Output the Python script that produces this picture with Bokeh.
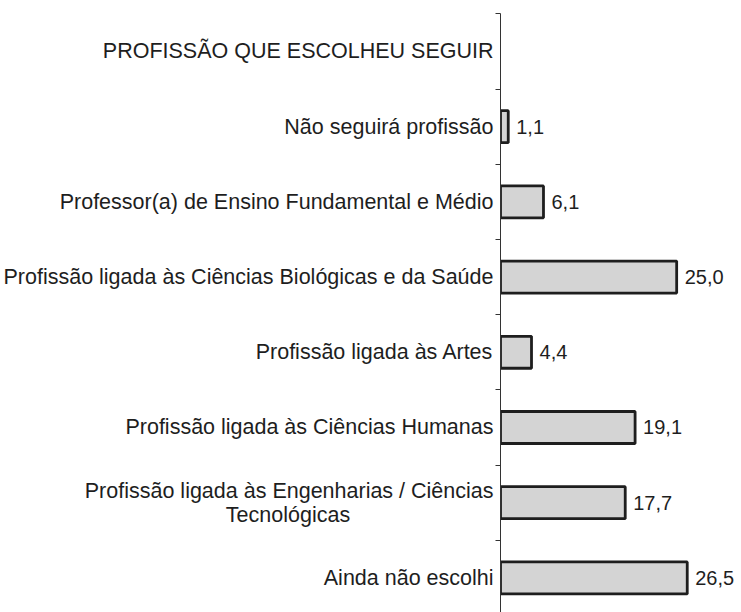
from bokeh.plotting import figure
from bokeh.models import Range1d, FixedTicker, ColumnDataSource
from bokeh.core.properties import value
from bokeh.embed import file_html
from bokeh.resources import INLINE

title_row = "PROFISSÃO QUE ESCOLHEU SEGUIR"
categories = [
    "Não seguirá profissão",
    "Professor(a) de Ensino Fundamental e Médio",
    "Profissão ligada às Ciências Biológicas e da Saúde",
    "Profissão ligada às Artes",
    "Profissão ligada às Ciências Humanas",
    "Profissão ligada às Engenharias / Ciências\nTecnológicas",
    "Ainda não escolhi",
]
values = [1.1, 6.1, 25.0, 4.4, 19.1, 17.7, 26.5]

FONT = "Liberation Sans"
LABEL_SIZE = "21.5px"
positions = list(range(1, len(categories) + 1))
labels = [f"{v:.1f}".replace(".", ",") for v in values]

src = ColumnDataSource(dict(y=positions, v=values, lab=labels))

p = figure(width=741, height=612, output_backend="svg", toolbar_location=None,
           x_range=Range1d(0, 34.2), y_range=Range1d(7.46, -0.505),
           min_border_left=499, min_border_right=0, min_border_top=13, min_border_bottom=0,
           x_axis_location=None, outline_line_color=None)
p.xgrid.visible = False
p.ygrid.visible = False

p.hbar(y="y", right="v", left=0, height=0.425, source=src,
       fill_color="#d4d4d4", line_color="#1e1e1e", line_width=2.8)
p.text(x="v", y="y", text="lab", source=src, x_offset=8,
       text_align="left", text_baseline="middle", text_font=value(FONT),
       text_font_size="20px", text_color="#1e1e1e")

ax = p.yaxis[0]
all_names = [title_row] + categories
ax.ticker = FixedTicker(ticks=list(range(len(all_names))),
                        minor_ticks=[i - 0.5 for i in range(len(all_names))])

# the second line of a wrapped label is centred under the first (as in the source)
PAD = "\u00a0" * 24
overrides = {}
for i, n in enumerate(all_names):
    if "\n" in n:
        first, second = n.split("\n")
        overrides[i] = first + "\n" + second + PAD
    else:
        overrides[i] = n
ax.major_label_overrides = overrides
ax.major_tick_out = 0
ax.major_tick_in = 0
ax.minor_tick_out = 5
ax.minor_tick_in = 0
ax.minor_tick_line_color = "#333333"
ax.axis_line_color = "#333333"
ax.axis_line_width = 1
ax.major_label_standoff = 2
ax.major_label_text_font = FONT
ax.major_label_text_font_size = LABEL_SIZE
ax.major_label_text_line_height = 1.0
ax.major_label_text_color = "#1e1e1e"

open("out.html", "w").write(file_html(p, INLINE))
